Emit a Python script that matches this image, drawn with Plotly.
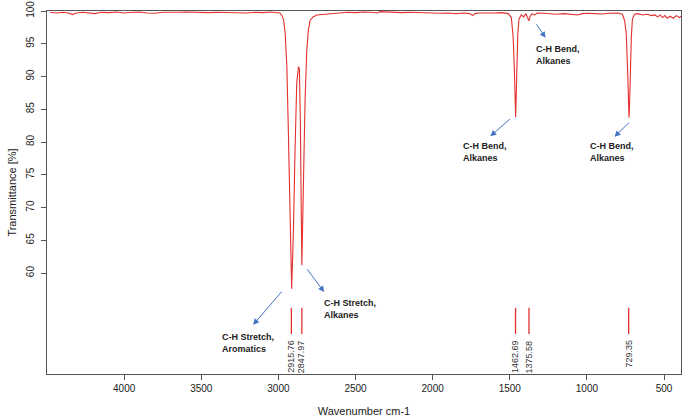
import plotly.graph_objects as go

# ---- spectrum (wavenumber cm-1, transmittance %) ----
wavenumber = [4480, 4440, 4400, 4360, 4335, 4310, 4270, 4230, 4190, 4150, 4100, 4050,
              4000, 3950, 3900, 3850, 3800, 3750, 3700, 3650, 3600, 3550, 3500, 3450,
              3400, 3350, 3300, 3250, 3200, 3150, 3100, 3050, 3010, 2990,
              2975, 2966, 2956, 2945, 2935, 2924, 2918, 2914, 2909, 2903, 2892, 2881,
              2870, 2864, 2858, 2854, 2850, 2848, 2844, 2838, 2832, 2827, 2816, 2805,
              2794, 2775, 2751, 2700, 2650, 2600, 2550, 2500, 2450, 2400, 2360, 2340,
              2300, 2250, 2200, 2150, 2100, 2050, 2000, 1950, 1900, 1850, 1800, 1760,
              1740, 1725, 1700, 1650, 1600, 1550, 1510, 1490, 1478, 1470, 1466, 1462,
              1459, 1454, 1448, 1440, 1425, 1410, 1395, 1385, 1376, 1368, 1355, 1340,
              1320, 1280, 1250, 1200, 1150, 1100, 1060, 1030, 1000, 950, 900, 850,
              800, 770, 755, 745, 739, 734, 730, 727, 723, 718, 712, 705, 690, 670,
              640, 610, 580, 560, 540, 525, 510, 495, 480, 460, 440, 420, 400, 390]
transmittance = [99.8, 99.7, 99.8, 99.7, 99.45, 99.7, 99.8, 99.75, 99.6, 99.8, 99.75, 99.85,
                 99.7, 99.8, 99.85, 99.7, 99.65, 99.8, 99.75, 99.8, 99.85, 99.8, 99.7, 99.75,
                 99.8, 99.75, 99.7, 99.75, 99.7, 99.8, 99.75, 99.85, 99.8, 99.7,
                 99.2, 98.6, 96.6, 91.5, 81.3, 68.6, 61.0, 57.6, 61.5, 66.0, 78.8, 89.0,
                 91.5, 91.2, 84.0, 75.0, 66.0, 61.2, 66.0, 76.0, 82.5, 86.4, 94.0, 97.2,
                 98.6, 99.1, 99.4, 99.5, 99.6, 99.75, 99.8, 99.75, 99.85, 99.8, 99.7, 99.9,
                 99.85, 99.8, 99.75, 99.8, 99.75, 99.7, 99.75, 99.65, 99.7, 99.6, 99.7, 99.6,
                 99.3, 99.6, 99.7, 99.65, 99.7, 99.75, 99.6, 99.0, 96.0, 91.0, 86.5, 83.8,
                 86.5, 92.0, 96.5, 98.8, 99.4, 99.1, 99.6, 99.0, 98.5, 99.2, 99.6, 99.4,
                 99.7, 99.65, 99.6, 99.5, 99.6, 99.55, 99.4, 99.6, 99.65, 99.6, 99.55, 99.65,
                 99.7, 99.5, 98.5, 96.5, 93.5, 89.5, 86.0, 83.7, 86.0, 91.0, 96.0, 98.8, 99.5, 99.6,
                 99.4, 99.5, 99.3, 99.4, 99.1, 99.4, 99.0, 99.3, 98.9, 99.2, 98.9, 99.3, 99.0, 99.2]

# ---- peak labels ----
peak_positions = [2915.76, 2847.97, 1462.69, 1375.58, 729.35]
peak_labels = ["2915.76", "2847.97", "1462.69", "1375.58", "729.35"]
marker_low, marker_high = 50.7, 54.7
label_top = 50.1

# ---- assignment annotations: text, text position (left, top), arrow tail, arrow head ----
assign_text = ["C-H Stretch,<br>Aromatics", "C-H Stretch,<br>Alkanes",
               "C-H Bend,<br>Alkanes", "C-H Bend,<br>Alkanes", "C-H Bend,<br>Alkanes"]
assign_text_x = [3379, 2717, 1815, 990, 1346]
assign_text_y = [51.3, 56.5, 80.5, 80.5, 95.3]
arrow_tail_x = [2970, 2820, 1489, 717, 1333]
arrow_tail_y = [57.4, 60.8, 83.7, 83.2, 98.2]
arrow_head_x = [3164, 2703, 1626, 821, 1268]
arrow_head_y = [52.1, 57.1, 80.9, 80.8, 95.9]

x_ticks = [4000, 3500, 3000, 2500, 2000, 1500, 1000, 500]
y_ticks = [60, 65, 70, 75, 80, 85, 90, 95, 100]

red = "#e4302e"
fig = go.Figure()
fig.add_trace(go.Scatter(x=wavenumber, y=transmittance, mode="lines",
                         line=dict(color=red, width=1.1), showlegend=False,
                         hoverinfo="skip"))

mx, my = [], []
for p in peak_positions:
    mx += [p, p, None]
    my += [marker_low, marker_high, None]
fig.add_trace(go.Scatter(x=mx, y=my, mode="lines", line=dict(color=red, width=1.3),
                         showlegend=False, hoverinfo="skip"))

annotations = []
for p, lab in zip(peak_positions, peak_labels):
    annotations.append(dict(x=p, y=label_top, text=lab, textangle=-90, showarrow=False,
                            xanchor="center", yanchor="top", xref="x", yref="y",
                            font=dict(family="Liberation Sans, Arial", size=9, color="#333")))
for t, tx, ty, ax, ay, hx, hy in zip(assign_text, assign_text_x, assign_text_y,
                                      arrow_tail_x, arrow_tail_y, arrow_head_x, arrow_head_y):
    annotations.append(dict(x=tx, y=ty, text="<b>" + t + "</b>", showarrow=False,
                            xanchor="left", yanchor="top", align="left", xref="x", yref="y",
                            font=dict(family="Liberation Sans, Arial", size=9, color="#222")))
    annotations.append(dict(x=hx, y=hy, ax=ax, ay=ay, axref="x", ayref="y", xref="x", yref="y",
                            text="", showarrow=True, arrowhead=2, arrowsize=1.2,
                            arrowwidth=1, arrowcolor="#4472c4"))

fig.update_layout(
    width=685, height=419,
    margin=dict(l=47, r=4, t=11, b=45, autoexpand=False),
    plot_bgcolor="white", paper_bgcolor="white",
    annotations=annotations,
    font=dict(family="Liberation Sans, Arial", color="#222"),
)
fig.update_xaxes(range=[4500, 390], tickvals=x_ticks, ticks="outside", ticklen=5,
                 tickcolor="#555", showline=True, linecolor="#555", linewidth=1, mirror=True,
                 showgrid=False, zeroline=False, tickfont=dict(size=10), automargin=False,
                 title=dict(text="Wavenumber cm-1", font=dict(size=11), standoff=14))
fig.update_yaxes(range=[44.6, 100], tickvals=y_ticks, ticks="outside", ticklen=5,
                 tickcolor="#555", showline=True, linecolor="#555", linewidth=1, mirror=True,
                 showgrid=False, zeroline=False, tickangle=-90, tickfont=dict(size=10),
                 automargin=False, ticklabelstandoff=3,
                 title=dict(text="Transmittance [%]", font=dict(size=11), standoff=6))

fig.write_html("out.html", config={"displayModeBar": False},
               post_script="document.body.style.margin='0';document.body.style.overflow='hidden';")
